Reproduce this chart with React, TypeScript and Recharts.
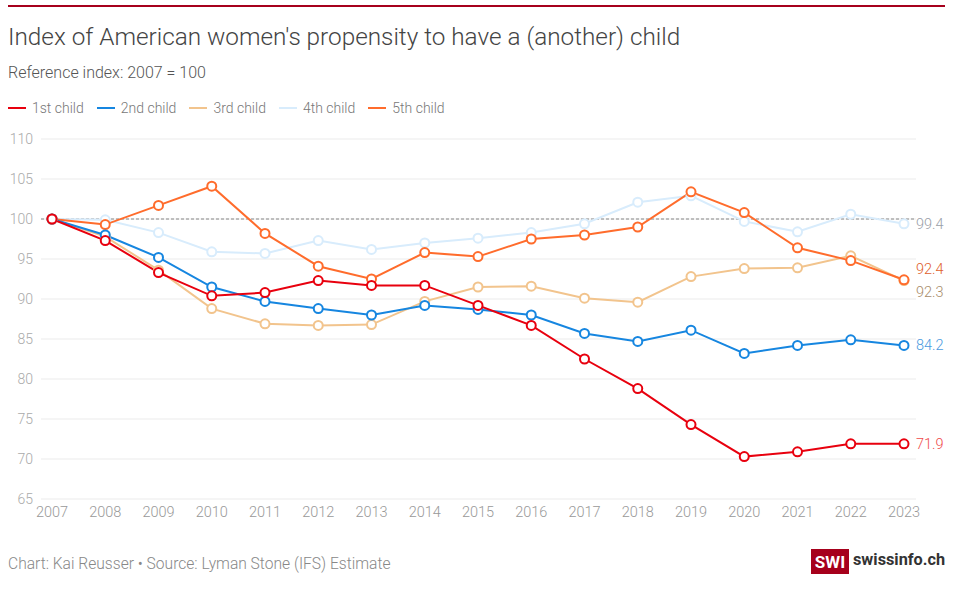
import { LineChart, Line, XAxis, YAxis, CartesianGrid, ReferenceLine } from 'recharts';

const years = ['2007', '2008', '2009', '2010', '2011', '2012', '2013', '2014', '2015', '2016', '2017', '2018', '2019', '2020', '2021', '2022', '2023'];

const first = [100, 97.3, 93.3, 90.4, 90.8, 92.3, 91.7, 91.7, 89.2, 86.7, 82.5, 78.8, 74.3, 70.3, 70.9, 71.9, 71.9];
const second = [100, 98.0, 95.2, 91.5, 89.7, 88.8, 88.0, 89.2, 88.7, 88.0, 85.7, 84.7, 86.1, 83.2, 84.2, 84.9, 84.2];
const third = [100, 97.8, 93.6, 88.8, 86.9, 86.7, 86.8, 89.7, 91.5, 91.6, 90.1, 89.6, 92.8, 93.8, 93.9, 95.4, 92.3];
const fourth = [100, 99.9, 98.3, 95.9, 95.7, 97.3, 96.2, 97.0, 97.6, 98.3, 99.4, 102.1, 102.9, 99.7, 98.4, 100.6, 99.4];
const fifth = [100, 99.3, 101.7, 104.1, 98.2, 94.1, 92.5, 95.8, 95.3, 97.5, 98.0, 99.0, 103.4, 100.8, 96.4, 94.8, 92.4];

const yTicks = [65, 70, 75, 80, 85, 90, 95, 100, 105, 110];

const data = years.map((year, i) => ({
  year,
  first: first[i],
  second: second[i],
  third: third[i],
  fourth: fourth[i],
  fifth: fifth[i],
}));

const series = [
  { key: 'first', name: '1st child', color: '#e8000e', label: '#f04a4a', dy: 0 },
  { key: 'second', name: '2nd child', color: '#1686e0', label: '#4b9be0', dy: 0 },
  { key: 'third', name: '3rd child', color: '#f2c48d', label: '#a88c6a', dy: 11 },
  { key: 'fourth', name: '4th child', color: '#d8ecfc', label: '#9aa0a8', dy: 0 },
  { key: 'fifth', name: '5th child', color: '#ff6c2c', label: '#e0602c', dy: -11 },
];

// drawing order: light lines first, 1st child on top
const drawOrder = ['fourth', 'third', 'fifth', 'second', 'first'];

const font = 'Roboto, "Noto Sans", sans-serif';

function endLabel(color: string, dy: number) {
  return (props: any) => {
    const { x, y, index, value } = props;
    if (index !== years.length - 1) return null;
    return (
      <text x={x + 12} y={y + dy} dy="0.35em" fill={color} fontSize={14.5} fontFamily={font} fontWeight={300}>
        {Number(value).toFixed(1)}
      </text>
    );
  };
}

export default function App() {
  return (
    <div style={{ position: 'fixed', left: 0, top: 0, width: 960, height: 589, background: '#fff', fontFamily: font, overflow: 'hidden' }}>
      <div style={{ position: 'absolute', left: 8, top: 5, width: 937, height: 2, background: '#a6001c' }} />
      <div style={{ position: 'absolute', left: 8, top: 22, fontSize: 24.3, fontWeight: 300, color: '#444', whiteSpace: 'nowrap' }}>
        Index of American women's propensity to have a (another) child
      </div>
      <div style={{ position: 'absolute', left: 8, top: 63, fontSize: 16, fontWeight: 300, color: '#555' }}>
        Reference index: 2007 = 100
      </div>
      <div style={{ position: 'absolute', left: 8, top: 100, display: 'flex', fontSize: 14, fontWeight: 300, color: '#777' }}>
        {series.map((s) => (
          <div key={s.key} style={{ display: 'flex', alignItems: 'center', marginRight: 13 }}>
            <span style={{ display: 'inline-block', width: 18, height: 2, background: s.color, marginRight: 6 }} />
            {s.name}
          </div>
        ))}
      </div>

      <div style={{ position: 'absolute', left: 0, top: 0 }}>
        <LineChart width={960} height={589} data={data} margin={{ top: 139, right: 44, bottom: 60, left: 0 }}>
          <CartesianGrid vertical={false} stroke="#ebebeb" />
          <XAxis
            dataKey="year"
            axisLine={false}
            tickLine={false}
            height={30}
            padding={{ left: 11, right: 12 }}
            interval={0}
            tick={{ fill: '#999', fontSize: 14.5, fontFamily: font, fontWeight: 300 }}
          />
          <YAxis
            domain={[65, 110]}
            ticks={yTicks}
            width={41}
            axisLine={false}
            tickLine={false}
            tick={{ fill: '#aaa', fontSize: 14, fontFamily: font, fontWeight: 300 }}
          />
          <ReferenceLine y={100} stroke="#888" strokeDasharray="3 2" strokeWidth={1} />
          {drawOrder.map((k) => {
            const s = series.find((d) => d.key === k)!;
            return (
              <Line
                key={s.key}
                dataKey={s.key}
                stroke={s.color}
                strokeWidth={2}
                dot={{ r: 4.5, fill: '#fff', stroke: s.color, strokeWidth: 2 }}
                activeDot={false}
                isAnimationActive={false}
                label={endLabel(s.label, s.dy)}
              />
            );
          })}
        </LineChart>
      </div>

      <div style={{ position: 'absolute', left: 8, top: 555, fontSize: 15.6, fontWeight: 300, color: '#888', whiteSpace: 'nowrap' }}>
        Chart: Kai Reusser • Source: Lyman Stone (IFS) Estimate
      </div>
      <div style={{ position: 'absolute', left: 811, top: 549, width: 38, height: 25, background: '#a6001c', color: '#fff', fontWeight: 700, fontSize: 17, display: 'flex', alignItems: 'center', justifyContent: 'center' }}>
        SWI
      </div>
      <div style={{ position: 'absolute', left: 853, top: 550, fontWeight: 700, fontSize: 16.3, color: '#333', whiteSpace: 'nowrap' }}>
        swissinfo.ch
      </div>
    </div>
  );
}
